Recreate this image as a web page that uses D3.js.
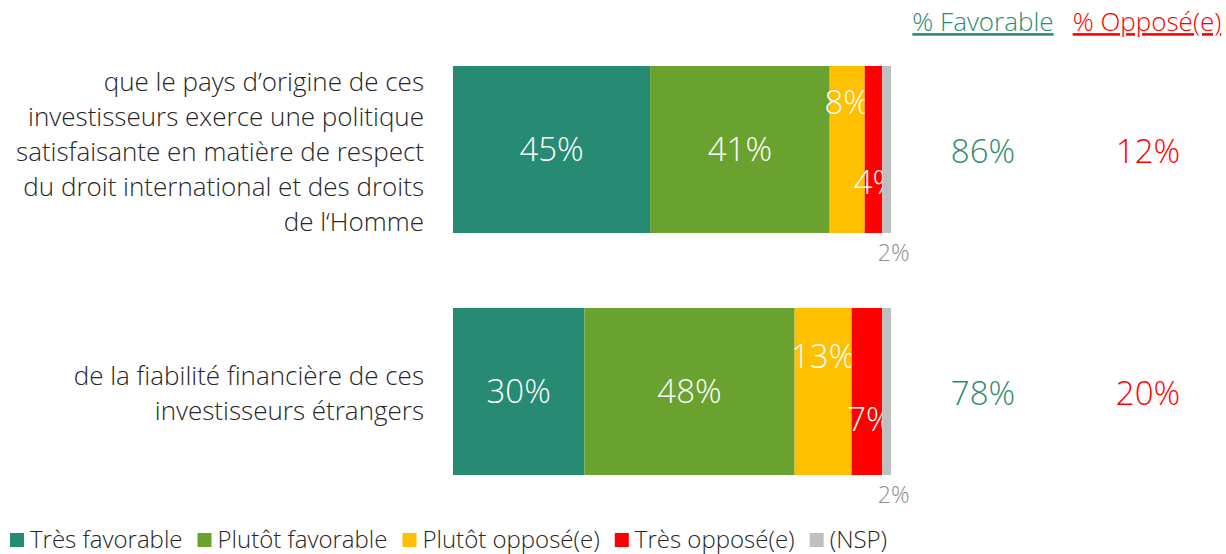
<!DOCTYPE html>
<html>
<head>
<meta charset="utf-8">
<script src="https://cdn.jsdelivr.net/npm/d3@7"></script>
<style>
  body { margin: 0; background: #fff; }
  text { font-family: "Open Sans", "Segoe UI", sans-serif; font-weight: 300; }
</style>
</head>
<body>
<div id="chart"></div>
<script>
// Données
const categories = [
  ["que le pays d’origine de ces", "investisseurs exerce une politique", "satisfaisante en matière de respect", "du droit international et des droits", "de l‘Homme"],
  ["de la fiabilité financière de ces", "investisseurs étrangers"]
];
const series = ["Très favorable", "Plutôt favorable", "Plutôt opposé(e)", "Très opposé(e)", "(NSP)"];
const colors = ["#268B72", "#6AA22F", "#FFC000", "#FF0000", "#BFBFBF"];
const values = [
  [45, 41, 8, 4, 2],
  [30, 48, 13, 7, 2]
];
const favorable = [86, 78];
const oppose = [12, 20];

const width = 1226, height = 554;

const svg = d3.select("#chart").append("svg")
  .attr("width", width)
  .attr("height", height);

// Échelles
const x = d3.scaleLinear().domain([0, 100]).range([453, 891]);
const y = d3.scaleBand().domain([0, 1]).range([17.6, 523.4]).paddingInner(0.31).paddingOuter(0.2);

// position verticale des petites étiquettes (comme dans Excel)
const smallOffsets = [[0.22, 0.70], [0.29, 0.67]];

values.forEach((row, i) => {
  const stack = d3.cumsum(row);
  const g = svg.append("g");
  const bh = y.bandwidth();
  row.forEach((v, j) => {
    const x0 = j === 0 ? 0 : stack[j - 1];
    g.append("rect")
      .attr("x", x(x0))
      .attr("y", y(i))
      .attr("width", x(x0 + v) - x(x0))
      .attr("height", bh)
      .attr("fill", colors[j]);

    const cx = (x(x0) + x(x0 + v)) / 2;
    let ly = y(i) + bh / 2;
    let fill = "#fff", size = 33;
    if (j === 2) ly = y(i) + bh * smallOffsets[i][0];
    if (j === 3) ly = y(i) + bh * smallOffsets[i][1];
    if (j === 4) { ly = y(i) + bh + 20; fill = "#8c8c8c"; size = 23; }
    g.append("text")
      .attr("x", j === 4 ? cx + 7 : (j === 3 ? cx + 3 : cx))
      .attr("y", ly)
      .attr("dy", "0.35em")
      .attr("text-anchor", "middle")
      .attr("fill", fill)
      .style("font-size", size + "px")
      .text(v + "%");
  });

  // Libellé de catégorie
  const lines = categories[i];
  const lh = 35;
  const top = y(i) + bh / 2 - (lines.length - 1) * lh / 2 + 2;
  svg.append("text")
    .attr("text-anchor", "end")
    .attr("fill", "#262626")
    .style("font-size", "26px")
    .selectAll("tspan")
    .data(lines)
    .join("tspan")
    .attr("x", 424)
    .attr("y", (d, k) => top + k * lh)
    .attr("dy", "0.35em")
    .text(d => d);

  // Totaux
  svg.append("text")
    .attr("x", 983).attr("y", y(i) + bh / 2 + 2).attr("dy", "0.35em")
    .attr("text-anchor", "middle").attr("fill", "#2E8B72")
    .style("font-size", "33px").text(favorable[i] + "%");
  svg.append("text")
    .attr("x", 1148).attr("y", y(i) + bh / 2 + 2).attr("dy", "0.35em")
    .attr("text-anchor", "middle").attr("fill", "#FF0000")
    .style("font-size", "33px").text(oppose[i] + "%");
});

// En-têtes
svg.append("text")
  .attr("x", 983).attr("y", 22).attr("dy", "0.35em")
  .attr("text-anchor", "middle").attr("fill", "#2E8B72")
  .style("font-size", "26px").style("text-decoration", "underline")
  .text("% Favorable");
svg.append("text")
  .attr("x", 1147).attr("y", 22).attr("dy", "0.35em")
  .attr("text-anchor", "middle").attr("fill", "#FF0000")
  .style("font-size", "26px").style("text-decoration", "underline")
  .text("% Opposé(e)");

// Légende
const legend = svg.append("g").attr("transform", "translate(10,540)");
let lx = 0;
series.forEach((s, j) => {
  const item = legend.append("g").attr("transform", `translate(${lx},0)`);
  item.append("rect").attr("x", 0).attr("y", -7).attr("width", 14).attr("height", 14).attr("fill", colors[j]);
  const t = item.append("text").attr("x", 20).attr("dy", "0.35em")
    .attr("fill", "#262626").style("font-size", "24px").text(s);
  lx += 20 + t.node().getComputedTextLength() + 15;
});
</script>
</body>
</html>
